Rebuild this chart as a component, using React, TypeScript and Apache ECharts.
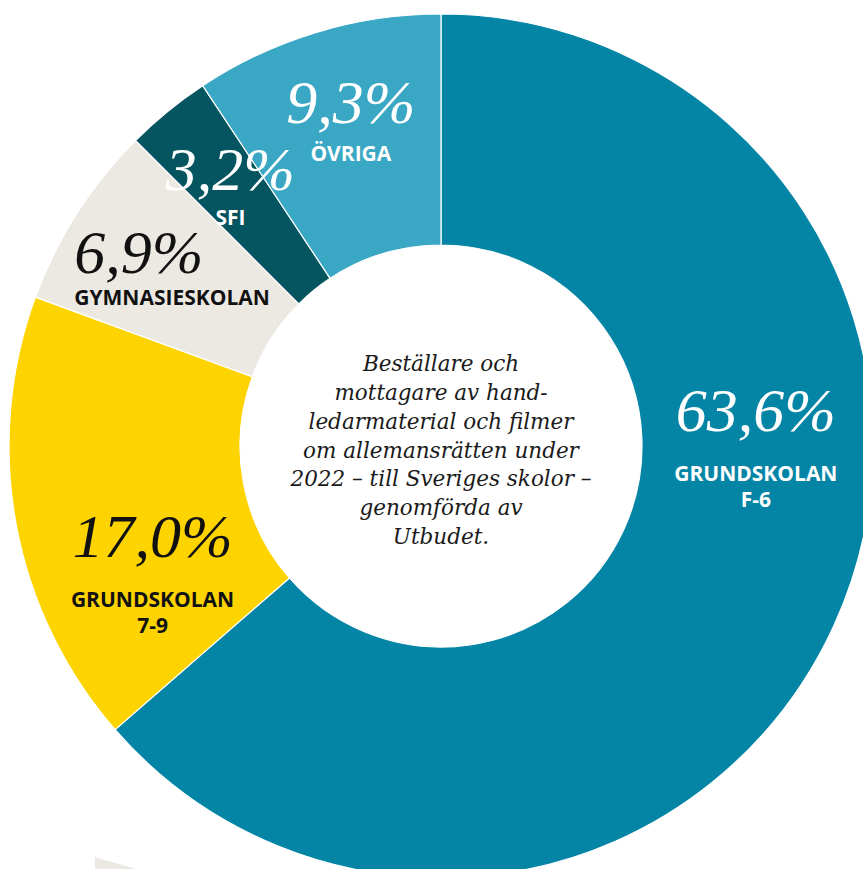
import React, { useEffect, useRef } from "react";
import * as echarts from "echarts";

// ---- data ----
const categories = ["GRUNDSKOLAN\nF-6", "GRUNDSKOLAN\n7-9", "GYMNASIESKOLAN", "SFI", "ÖVRIGA"];
const shares = [63.6, 17.0, 6.9, 3.2, 9.3];
const centerLines = [
  "Beställare och",
  "mottagare av hand-",
  "ledarmaterial och filmer",
  "om allemansrätten under",
  "2022 – till Sveriges skolor –",
  "genomförda av",
  "Utbudet.",
];

// ---- styles ----
const sliceColors = ["#0585a6", "#fdd300", "#ece9e3", "#04555f", "#3aa8c5"];
const labelColors = ["#ffffff", "#111111", "#111111", "#ffffff", "#ffffff"];
const labelRadius = [315, 311, 324, 338, 343];
const labelAngleShift = [-26.3, -11.5, 1.3, 0.7, 1.5];
const pctLineHeight = [100, 100, 64, 71, 76];
const pctAlign = ["center", "center", "left", "center", "center"];
const CX = 441;
const CY = 446;
const R0 = 201;
const R1 = 432;

function fmt(v: number) {
  return v.toFixed(1).replace(".", ",");
}

function richFor(i: number) {
  return {
    pct: {
      fontFamily: "Liberation Serif",
      fontStyle: "italic",
      fontSize: 62,
      lineHeight: pctLineHeight[i],
      align: pctAlign[i],
      color: labelColors[i],
    },
    name: {
      fontFamily: "Open Sans",
      fontWeight: 700,
      fontSize: 21,
      lineHeight: 26,
      align: "center",
      color: labelColors[i],
    },
  };
}

export default function App() {
  const ref = useRef<HTMLDivElement>(null);
  useEffect(() => {
    if (!ref.current) return;
    const chart = echarts.init(ref.current, null, { renderer: "svg" });
    const total = shares.reduce((a, b) => a + b, 0);
    const mids: number[] = [];
    let cum = 0;
    shares.forEach((v) => {
      mids.push(((cum + v / 2) / total) * 360);
      cum += v;
    });
    chart.setOption({
      animation: false,
      backgroundColor: "#ffffff",
      series: [
        {
          type: "pie",
          center: [CX, CY],
          radius: [R0, R1],
          startAngle: 90,
          clockwise: true,
          avoidLabelOverlap: false,
          emphasis: { disabled: true },
          silent: true,
          itemStyle: { borderColor: "#ffffff", borderWidth: 1.2 },
          labelLine: { show: false },
          label: {
            show: true,
            position: "inside",
            formatter: (p: any) => `{pct|${fmt(p.value)}%}\n{name|${p.name}}`,
          },
          labelLayout: (params: any) => {
            const i = params.dataIndex;
            const a = ((mids[i] + labelAngleShift[i]) * Math.PI) / 180;
            const r = labelRadius[i];
            return { x: CX + r * Math.sin(a), y: CY - r * Math.cos(a) };
          },
          data: categories.map((name, i) => ({
            name,
            value: shares[i],
            itemStyle: { color: sliceColors[i] },
            label: { color: labelColors[i], rich: richFor(i) },
          })),
        },
      ],
      graphic: [
        {
          type: "text",
          x: CX,
          y: 450,
          style: {
            text: centerLines.join("\n"),
            font: 'italic 21.5px "DejaVu Serif"',
            fill: "#1a1a1a",
            align: "center",
            verticalAlign: "middle",
            lineHeight: 28.7,
          },
        },
        {
          type: "polygon",
          shape: { points: [[95, 857], [136, 869], [95, 869]] },
          style: { fill: "#ece9e3" },
        },
      ],
    });
    return () => chart.dispose();
  }, []);
  return (
    <div
      ref={ref}
      style={{ position: "fixed", left: 0, top: 0, width: 863, height: 869 }}
    />
  );
}
